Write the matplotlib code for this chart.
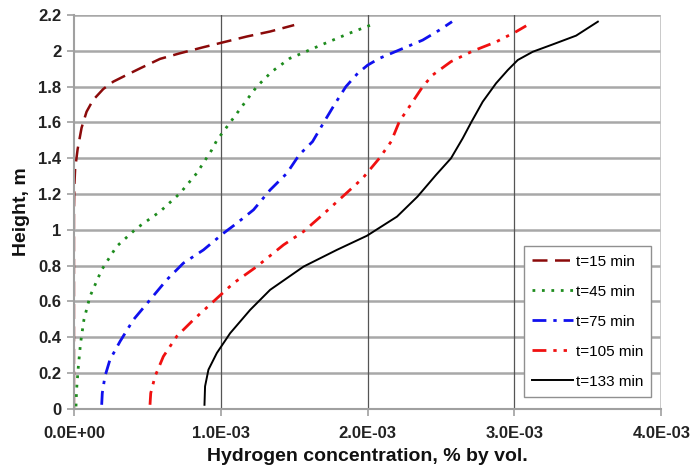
import matplotlib
matplotlib.use("Agg")
import matplotlib.pyplot as plt

plt.rcParams['font.family'] = ['Liberation Sans', 'DejaVu Sans']

# Data: concentration in units of 1e-3 % by vol., height in m
h15 = [0.0, 0.6, 1.1, 1.25, 1.34, 1.45, 1.57, 1.66, 1.725, 1.787, 1.828, 1.856, 1.902, 1.955, 1.986, 2.02, 2.048, 2.08, 2.108, 2.144]
c15 = [0.0, 0.0, 0.0, 0.003, 0.008, 0.025, 0.052, 0.086, 0.13, 0.2, 0.268, 0.336, 0.45, 0.586, 0.72, 0.88, 1.018, 1.177, 1.336, 1.5]

h45 = [0.014, 0.107, 0.237, 0.367, 0.498, 0.628, 0.777, 0.907, 1.009, 1.102, 1.205, 1.316, 1.447, 1.50, 1.60, 1.74, 1.8, 1.884, 1.958, 1.98, 2.036, 2.098, 2.148]
c45 = [0.014, 0.018, 0.03, 0.045, 0.068, 0.109, 0.189, 0.29, 0.427, 0.586, 0.723, 0.836, 0.939, 0.973, 1.064, 1.19, 1.245, 1.348, 1.47, 1.534, 1.693, 1.875, 2.034]

h75 = [0.023, 0.088, 0.181, 0.274, 0.377, 0.498, 0.609, 0.721, 0.814, 0.888, 0.981, 1.037, 1.112, 1.223, 1.316, 1.419, 1.493, 1.605, 1.698, 1.8, 1.874, 1.92, 1.958, 2.005, 2.06, 2.116, 2.163]
c75 = [0.189, 0.193, 0.211, 0.245, 0.314, 0.405, 0.518, 0.632, 0.745, 0.882, 1.018, 1.109, 1.223, 1.336, 1.45, 1.534, 1.625, 1.705, 1.773, 1.852, 1.932, 2.0, 2.08, 2.216, 2.375, 2.489, 2.575]

h105 = [0.023, 0.088, 0.181, 0.293, 0.405, 0.498, 0.6, 0.702, 0.795, 0.916, 0.991, 1.084, 1.186, 1.288, 1.4, 1.493, 1.605, 1.716, 1.8, 1.865, 1.94, 1.999, 2.05, 2.107, 2.14]
c105 = [0.518, 0.523, 0.552, 0.609, 0.7, 0.814, 0.95, 1.086, 1.245, 1.427, 1.564, 1.693, 1.83, 1.966, 2.08, 2.16, 2.216, 2.307, 2.375, 2.443, 2.568, 2.716, 2.875, 3.011, 3.08]

h133 = [0.023, 0.126, 0.219, 0.312, 0.423, 0.553, 0.665, 0.795, 0.888, 0.967, 1.074, 1.186, 1.307, 1.4, 1.512, 1.6, 1.716, 1.819, 1.893, 1.949, 1.995, 2.036, 2.085, 2.163]
c133 = [0.889, 0.893, 0.916, 0.973, 1.064, 1.2, 1.336, 1.564, 1.79, 1.995, 2.2, 2.34, 2.466, 2.568, 2.648, 2.705, 2.784, 2.875, 2.955, 3.023, 3.125, 3.261, 3.42, 3.568]

labels = ['t=15 min', 't=45 min', 't=75 min', 't=105 min', 't=133 min']
xticklabels = ['0.0E+00', '1.0E-03', '2.0E-03', '3.0E-03', '4.0E-03']
yticks = [0, 0.2, 0.4, 0.6, 0.8, 1.0, 1.2, 1.4, 1.6, 1.8, 2.0, 2.2]
yticklabels = ['0', '0.2', '0.4', '0.6', '0.8', '1', '1.2', '1.4', '1.6', '1.8', '2', '2.2']

fig = plt.figure(figsize=(6.91, 4.70), dpi=100)
ax = fig.add_axes([0.107, 0.13, 0.85, 0.838])

scale = 1e-3
series = [(c15, h15), (c45, h45), (c75, h75), (c105, h105), (c133, h133)]
colors = ['#8B0A0A', '#1E8C1E', '#1010EE', '#F01010', '#000000']
styles = [(0, (6, 3)), (0, (1, 2.4)), (0, (5, 2.5, 1.2, 2.5)), (0, (5, 2.5, 1.2, 2.5, 1.2, 2.5)), '-']
lws = [1.8, 2.0, 2.0, 2.0, 1.4]

for (c, h), col, ls, lw, lab in zip(series, colors, styles, lws, labels):
    ax.plot([v * scale for v in c], h, color=col, linestyle=ls, linewidth=lw, label=lab)

ax.set_xlim(0, 4e-3)
ax.set_ylim(0, 2.2)
xt = [i * 1e-3 for i in range(5)]
ax.set_xticks(xt)
ax.set_xticklabels(xticklabels)
ax.set_yticks(yticks)
ax.set_yticklabels(yticklabels)

for y in yticks[1:]:
    ax.axhline(y, color='#A8A8A8', linewidth=1.8, zorder=0)
for x in xt[1:4]:
    ax.axvline(x, color='#555555', linewidth=0.9, zorder=0)
ax.axvline(4e-3, color='#C0C0C0', linewidth=1.2, zorder=0)

for s in ['top', 'right']:
    ax.spines[s].set_visible(False)
for s in ['left', 'bottom']:
    ax.spines[s].set_color('#A0A0A0')
    ax.spines[s].set_linewidth(1.5)

ax.tick_params(axis='both', direction='out', color='#A0A0A0', length=5, width=1.2,
               labelsize=12)
for t in ax.get_xticklabels() + ax.get_yticklabels():
    t.set_fontweight('bold')
    t.set_color('#222222')
ax.tick_params(axis='x', pad=7)
ax.tick_params(axis='y', pad=4)

ax.set_xlabel('Hydrogen concentration, % by vol.', fontsize=14, fontweight='bold', labelpad=5,
              color='#111111')
ax.set_ylabel('Height, m', fontsize=14, fontweight='bold', labelpad=6, color='#111111')

leg = ax.legend(loc='lower right', bbox_to_anchor=(0.983, 0.03), fontsize=11,
                frameon=True, fancybox=False, borderpad=0.55, labelspacing=1.05,
                handlelength=2.7, handletextpad=0.15, borderaxespad=0)
leg.get_frame().set_edgecolor('#909090')
leg.get_frame().set_linewidth(1.0)
leg.get_frame().set_alpha(1.0)

fig.savefig('out.png', dpi=100)
